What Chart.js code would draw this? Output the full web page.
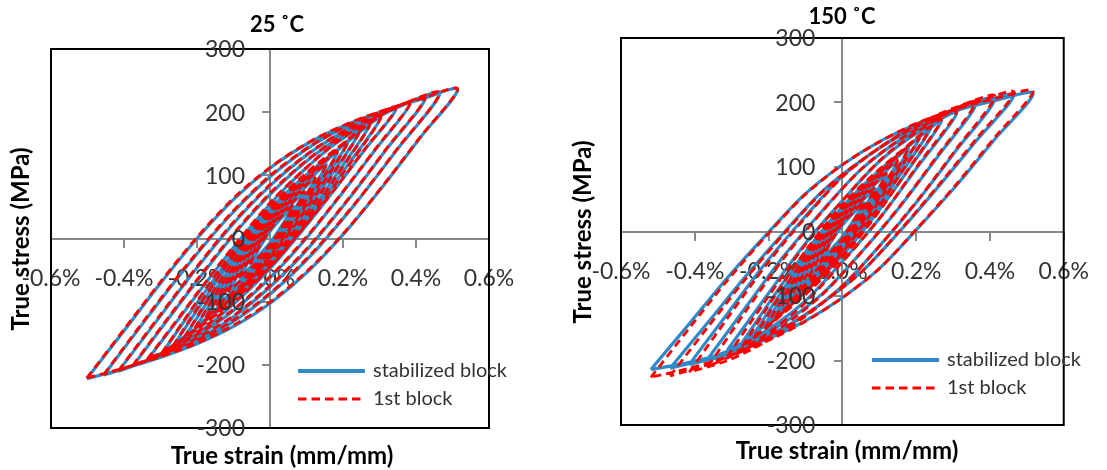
<!DOCTYPE html>
<html>
<head>
<meta charset="utf-8">
<script src="https://cdn.jsdelivr.net/npm/chart.js@4.4.1/dist/chart.umd.min.js"></script>
<style>
  body { margin: 0; background: #fff; width: 1107px; height: 470px; overflow: hidden; position: relative; }
  .panel { position: absolute; top: 0; height: 470px; }
</style>
</head>
<body>
<div class="panel" style="left:0;width:553px"><canvas id="c25"></canvas></div>
<div class="panel" style="left:553px;width:554px"><canvas id="c150"></canvas></div>
<script>
// --- data ---
const tickStrain = [-0.6, -0.4, -0.2, 0, 0.2, 0.4, 0.6];   // %
const tickStress = [-300, -200, -100, 0, 100, 200, 300];    // MPa
const seriesNames = ['stabilized block', '1st block'];

// 25 C. One row per loop: strain points (%) from the lower tip to the upper tip.
// *Up = stress on the loading branch at those strains,
// *Down = stress on the unloading branch, walked back from the upper tip.
const strain25 = [
  [-0.502, -0.400, -0.299, -0.197, -0.096, 0.006, 0.108, 0.209, 0.311, 0.412, 0.514],
  [-0.455, -0.340, -0.225, -0.110, 0.005, 0.120, 0.235, 0.350, 0.465],
  [-0.415, -0.310, -0.205, -0.100, 0.005, 0.110, 0.215, 0.320, 0.425],
  [-0.376, -0.281, -0.186, -0.091, 0.004, 0.099, 0.194, 0.289, 0.384],
  [-0.336, -0.251, -0.166, -0.081, 0.004, 0.089, 0.174, 0.259, 0.344],
  [-0.296, -0.196, -0.096, 0.004, 0.104, 0.204, 0.304],
  [-0.266, -0.176, -0.086, 0.004, 0.094, 0.184, 0.274],
  [-0.236, -0.156, -0.076, 0.004, 0.084, 0.164, 0.244],
  [-0.206, -0.136, -0.066, 0.004, 0.074, 0.144, 0.214],
  [-0.176, -0.086, 0.004, 0.094, 0.184],
  [-0.146, -0.071, 0.004, 0.079, 0.154],
  [-0.116, -0.056, 0.004, 0.064, 0.124],
  [-0.086, -0.041, 0.004, 0.049, 0.094],
  [-0.056, -0.026, 0.004, 0.034, 0.064]
];
const stab25Up = [
  [-222, -146, -70, 2, 64, 114, 152, 180, 202, 220, 236],
  [-216, -128, -42, 36, 100, 149, 184, 209, 230],
  [-210, -130, -50, 24, 86, 136, 173, 200, 222],
  [-202, -129, -57, 12, 72, 122, 161, 191, 214],
  [-192, -128, -63, -1, 57, 106, 148, 180, 204],
  [-182, -99, -20, 49, 103, 149, 192],
  [-171, -93, -19, 45, 96, 140, 181],
  [-158, -87, -19, 40, 88, 129, 168],
  [-143, -79, -19, 35, 79, 117, 153],
  [-126, -42, 31, 89, 136],
  [-107, -35, 27, 76, 117],
  [-85, -28, 22, 62, 95],
  [-63, -20, 18, 48, 73],
  [-41, -12, 14, 34, 51]
];
const stab25Down = [
  [236, 160, 84, 12, -50, -100, -138, -166, -188, -206, -222],
  [230, 142, 56, -22, -86, -135, -170, -195, -216],
  [222, 142, 62, -12, -74, -124, -161, -188, -210],
  [214, 141, 69, 0, -60, -110, -149, -179, -202],
  [204, 140, 75, 13, -45, -94, -136, -168, -192],
  [192, 109, 30, -39, -93, -139, -182],
  [181, 103, 29, -35, -87, -130, -171],
  [168, 97, 29, -30, -78, -120, -158],
  [153, 89, 29, -25, -69, -107, -143],
  [136, 52, -21, -79, -126],
  [117, 45, -17, -67, -107],
  [95, 38, -12, -52, -85],
  [73, 30, -8, -38, -63],
  [51, 22, -4, -24, -41]
];
const first25Up = [
  [-221, -144, -68, 4, 66, 115, 153, 181, 203, 221, 237],
  [-215, -126, -40, 38, 102, 150, 185, 210, 231],
  [-209, -128, -48, 26, 88, 137, 174, 201, 223],
  [-201, -127, -55, 14, 74, 123, 162, 192, 215],
  [-191, -126, -61, 1, 59, 107, 149, 181, 205],
  [-181, -96, -17, 52, 106, 152, 193],
  [-170, -90, -16, 48, 99, 143, 182],
  [-157, -84, -16, 43, 91, 132, 169],
  [-142, -76, -16, 38, 82, 120, 154],
  [-125, -39, 34, 92, 137],
  [-106, -32, 30, 79, 118],
  [-84, -25, 25, 65, 96],
  [-62, -17, 21, 51, 74],
  [-40, -9, 17, 37, 52]
];
const first25Down = [
  [237, 161, 85, 13, -48, -98, -136, -165, -187, -205, -221],
  [231, 143, 57, -20, -84, -133, -168, -194, -215],
  [223, 143, 63, -10, -72, -122, -159, -187, -209],
  [215, 142, 70, 2, -58, -108, -147, -178, -201],
  [205, 141, 76, 15, -43, -92, -134, -167, -191],
  [193, 106, 27, -42, -96, -142, -181],
  [182, 100, 26, -38, -90, -133, -170],
  [169, 94, 26, -33, -81, -123, -157],
  [154, 86, 26, -28, -72, -110, -142],
  [137, 49, -24, -82, -125],
  [118, 42, -20, -70, -106],
  [96, 35, -15, -55, -84],
  [74, 27, -11, -41, -62],
  [52, 19, -7, -27, -40]
];

// 150 C
const strain150 = [
  [-0.519, -0.415, -0.312, -0.208, -0.105, -0.001, 0.103, 0.206, 0.310, 0.413, 0.517],
  [-0.467, -0.363, -0.260, -0.156, -0.053, 0.051, 0.155, 0.258, 0.362, 0.465],
  [-0.415, -0.311, -0.208, -0.104, -0.001, 0.103, 0.206, 0.310, 0.413],
  [-0.364, -0.260, -0.157, -0.053, 0.050, 0.154, 0.258, 0.361],
  [-0.312, -0.208, -0.105, -0.001, 0.103, 0.206, 0.310],
  [-0.271, -0.181, -0.091, -0.001, 0.089, 0.179, 0.269],
  [-0.241, -0.161, -0.081, -0.001, 0.079, 0.159, 0.239],
  [-0.211, -0.141, -0.071, -0.001, 0.069, 0.139, 0.209],
  [-0.181, -0.091, -0.001, 0.089, 0.179],
  [-0.151, -0.076, -0.001, 0.074, 0.149],
  [-0.121, -0.061, -0.001, 0.059, 0.119],
  [-0.091, -0.046, -0.001, 0.044, 0.089],
  [-0.061, -0.031, -0.001, 0.029, 0.059]
];
const stab150Up = [
  [-214, -143, -72, -6, 56, 103, 140, 168, 188, 203, 214],
  [-212, -140, -68, 0, 63, 110, 148, 176, 197, 212],
  [-206, -127, -49, 21, 85, 131, 166, 191, 206],
  [-197, -116, -37, 33, 96, 141, 174, 197],
  [-184, -102, -22, 47, 110, 154, 184],
  [-172, -96, -25, 38, 89, 132, 172],
  [-160, -90, -24, 34, 81, 122, 160],
  [-145, -82, -23, 30, 73, 110, 145],
  [-128, -45, 26, 82, 128],
  [-108, -38, 22, 69, 108],
  [-88, -32, 17, 56, 88],
  [-66, -24, 13, 42, 66],
  [-44, -16, 9, 28, 44]
];
const stab150Down = [
  [214, 143, 72, 6, -56, -103, -140, -168, -188, -203, -214],
  [212, 140, 68, 0, -63, -110, -148, -176, -197, -212],
  [206, 127, 49, -21, -85, -131, -166, -191, -206],
  [197, 116, 37, -33, -96, -141, -174, -197],
  [184, 102, 22, -47, -110, -154, -184],
  [172, 96, 25, -38, -89, -132, -172],
  [160, 90, 24, -34, -81, -122, -160],
  [145, 82, 23, -30, -73, -110, -145],
  [128, 45, -26, -82, -128],
  [108, 38, -22, -69, -108],
  [88, 32, -17, -56, -88],
  [66, 24, -13, -42, -66],
  [44, 16, -9, -28, -44]
];
const first150Up = [
  [-226, -150, -76, -8, 55, 103, 140, 169, 190, 206, 218],
  [-224, -147, -72, -2, 62, 110, 149, 178, 200, 216],
  [-218, -134, -53, 19, 84, 131, 167, 193, 210],
  [-209, -122, -40, 32, 96, 142, 176, 201],
  [-194, -107, -24, 47, 111, 156, 187],
  [-178, -98, -23, 41, 91, 134, 174],
  [-166, -92, -22, 37, 83, 124, 162],
  [-151, -84, -21, 33, 75, 112, 147],
  [-133, -45, 29, 84, 130],
  [-113, -38, 25, 71, 110],
  [-93, -32, 20, 58, 90],
  [-71, -24, 16, 44, 68],
  [-49, -16, 12, 30, 46]
];
const first150Down = [
  [218, 146, 74, 7, -56, -103, -141, -171, -194, -212, -226],
  [216, 143, 70, 1, -63, -110, -150, -181, -206, -224],
  [210, 129, 50, -21, -85, -133, -171, -200, -218],
  [201, 118, 38, -33, -97, -145, -182, -209],
  [187, 104, 22, -48, -113, -160, -194],
  [174, 97, 23, -41, -93, -137, -178],
  [162, 91, 22, -37, -85, -127, -166],
  [147, 83, 21, -33, -77, -115, -151],
  [130, 44, -29, -86, -133],
  [110, 37, -25, -73, -113],
  [90, 31, -20, -60, -93],
  [68, 23, -16, -46, -71],
  [46, 15, -12, -32, -49]
];

const BLUE = '#2E8BC8';
const RED = '#FF0000';
const AXIS = '#888888';
const LABEL = '#333333';
const FONT = 'Lato, "Open Sans", sans-serif';

// loops -> one point list: loading branch, unloading branch, then a gap before the next loop
function toPoints(strainLoops, upLoops, downLoops) {
  const pts = [];
  strainLoops.forEach((loop, i) => {
    loop.forEach((x, j) => pts.push({ x: x, y: upLoops[i][j] }));
    const back = loop.slice().reverse();
    back.forEach((x, j) => { if (j > 0) pts.push({ x: x, y: downLoops[i][j] }); });
    pts.push({ x: null, y: null });
  });
  return pts;
}

// frame, stress labels beside the centred axis, titles and legend
const decor = {
  id: 'decor',
  afterDraw(chart, args, o) {
    const ctx = chart.ctx;
    const ca = chart.chartArea;
    const xs = chart.scales.x, ys = chart.scales.y;
    ctx.save();
    ctx.strokeStyle = '#000';
    ctx.lineWidth = 2;
    ctx.strokeRect(ca.left, ca.top, ca.right - ca.left, ca.bottom - ca.top);

    // y tick labels: Chart.js puts them right on a centred axis, the original keeps a gap
    ctx.font = '23px ' + FONT;
    ctx.fillStyle = LABEL;
    ctx.textAlign = 'right';
    ctx.textBaseline = 'middle';
    const lx0 = xs.getPixelForValue(0) - o.yLabelGap;
    ys.ticks.forEach(t => ctx.fillText(String(t.value), lx0, ys.getPixelForValue(t.value) + 1));

    ctx.fillStyle = '#000';
    ctx.textAlign = 'center';
    ctx.font = 'bold 22px ' + FONT;
    ctx.fillText(o.title, o.titleX, o.titleY);
    ctx.font = 'bold 24px ' + FONT;
    ctx.fillText('True strain (mm/mm)', o.xTitleX, o.xTitleY);
    ctx.save();
    ctx.translate(o.yTitleX, o.yTitleY);
    ctx.rotate(-Math.PI / 2);
    ctx.fillText('True stress (MPa)', 0, 0);
    ctx.restore();

    // legend
    const lx = o.legendX, ly = o.legendY;
    ctx.lineWidth = 4;
    ctx.strokeStyle = BLUE;
    ctx.beginPath(); ctx.moveTo(lx, ly); ctx.lineTo(lx + 67, ly); ctx.stroke();
    ctx.lineWidth = 3;
    ctx.strokeStyle = RED;
    ctx.setLineDash([8.5, 5]);
    ctx.beginPath(); ctx.moveTo(lx, ly + 28); ctx.lineTo(lx + 67, ly + 28); ctx.stroke();
    ctx.setLineDash([]);
    ctx.font = '20px ' + FONT;
    ctx.fillStyle = LABEL;
    ctx.textAlign = 'left';
    ctx.fillText(seriesNames[0], lx + 75, ly);
    ctx.fillText(seriesNames[1], lx + 75, ly + 28);
    ctx.restore();
  }
};

function makePanel(id, strain, stabUp, stabDown, firstUp, firstDown, deco) {
  return new Chart(document.getElementById(id), {
    type: 'scatter',
    data: {
      datasets: [
        { label: seriesNames[1], data: toPoints(strain, firstUp, firstDown), borderColor: RED,
          borderWidth: 2.8, borderDash: [8, 5], showLine: true, pointRadius: 0, tension: 0.3 },
        { label: seriesNames[0], data: toPoints(strain, stabUp, stabDown), borderColor: BLUE,
          borderWidth: 3.2, showLine: true, pointRadius: 0, tension: 0.3 }
      ]
    },
    options: {
      responsive: true,
      maintainAspectRatio: false,
      animation: false,
      layout: { padding: deco.pad },
      plugins: { legend: { display: false }, tooltip: { enabled: false }, decor: deco },
      scales: {
        x: {
          type: 'linear', min: -0.6, max: 0.6, position: { y: 0 }, z: 1,
          afterFit: s => { s.height = 0; },
          afterBuildTicks: s => { s.ticks = tickStrain.map(v => ({ value: v })); },
          grid: { drawOnChartArea: false, drawTicks: true, tickLength: 8, color: AXIS, lineWidth: 2 },
          border: { color: AXIS, width: 2 },
          ticks: { font: { family: FONT, size: 23 }, color: LABEL, padding: 18, maxRotation: 0,
                   autoSkip: false, callback: v => v.toFixed(1) + '%' }
        },
        y: {
          type: 'linear', min: -300, max: 300, position: { x: 0 },
          afterFit: s => { s.width = 0; },
          afterBuildTicks: s => { s.ticks = tickStress.map(v => ({ value: v })); },
          grid: { drawOnChartArea: false, drawTicks: true, tickLength: 7, color: AXIS, lineWidth: 2 },
          border: { color: AXIS, width: 2 },
          ticks: { display: false }
        }
      }
    },
    plugins: [decor]
  });
}

makePanel('c25', strain25, stab25Up, stab25Down, first25Up, first25Down, {
  pad: { left: 51, right: 64, top: 49, bottom: 42 },
  yLabelGap: 25,
  title: '25 ˚C', titleX: 277, titleY: 25,
  xTitleX: 282, xTitleY: 456, yTitleX: 21, yTitleY: 239,
  legendX: 298, legendY: 371
});
makePanel('c150', strain150, stab150Up, stab150Down, first150Up, first150Down, {
  pad: { left: 68, right: 35, top: 38, bottom: 45 },
  yLabelGap: 27,
  title: '150 ˚C', titleX: 289, titleY: 17,
  xTitleX: 294, xTitleY: 451, yTitleX: 30, yTitleY: 232,
  legendX: 319, legendY: 360
});
</script>
</body>
</html>
